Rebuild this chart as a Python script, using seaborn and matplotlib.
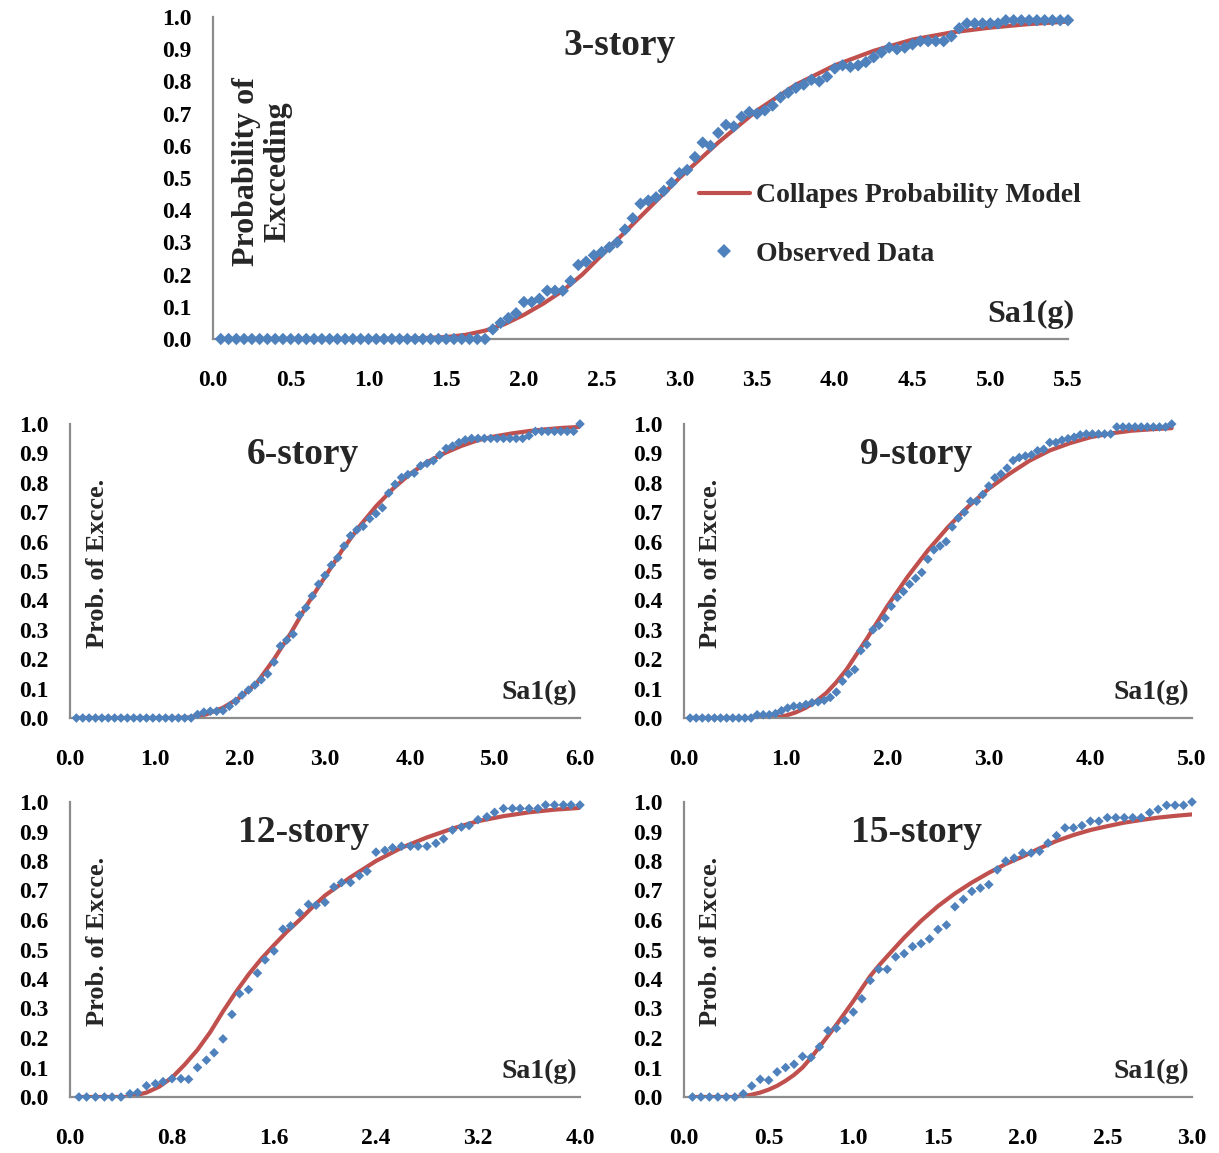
import numpy as np
import matplotlib
matplotlib.use("Agg")
import matplotlib.pyplot as plt
from matplotlib.lines import Line2D
import seaborn as sns

sns.set_style("white")
plt.rcParams['font.family'] = ['Liberation Serif', 'DejaVu Serif']
plt.rcParams['font.weight'] = 'bold'

BLUE = "#4F81BD"
RED = "#C0504D"
GRAY = "#8C8C8C"

# ---------------- 3-story ----------------
obs3_x = [0.05, 0.1, 0.15, 0.2, 0.25, 0.3, 0.35, 0.4, 0.45, 0.5,
          0.55, 0.6, 0.65, 0.7, 0.75, 0.8, 0.85, 0.9, 0.95, 1.0,
          1.05, 1.1, 1.15, 1.2, 1.25, 1.3, 1.35, 1.4, 1.45, 1.5,
          1.55, 1.6, 1.65, 1.7, 1.75, 1.8, 1.85, 1.9, 1.95, 2.0,
          2.05, 2.1, 2.15, 2.2, 2.25, 2.3, 2.35, 2.4, 2.45, 2.5,
          2.55, 2.6, 2.65, 2.7, 2.75, 2.8, 2.85, 2.9, 2.95, 3.0,
          3.05, 3.1, 3.15, 3.2, 3.25, 3.3, 3.35, 3.4, 3.45, 3.5,
          3.55, 3.6, 3.65, 3.7, 3.75, 3.8, 3.85, 3.9, 3.95, 4.0,
          4.05, 4.1, 4.15, 4.2, 4.25, 4.3, 4.35, 4.4, 4.45, 4.5,
          4.55, 4.6, 4.65, 4.7, 4.75, 4.8, 4.85, 4.9, 4.95, 5.0,
          5.05, 5.1, 5.15, 5.2, 5.25, 5.3, 5.35, 5.4, 5.45, 5.5]
obs3_y = [0, 0, 0, 0, 0, 0, 0, 0, 0, 0,
          0, 0, 0, 0, 0, 0, 0, 0, 0, 0,
          0, 0, 0, 0, 0, 0, 0, 0, 0, 0,
          0, 0, 0, 0, 0, 0.03, 0.05, 0.065, 0.08, 0.115,
          0.115, 0.125, 0.15, 0.15, 0.15, 0.18, 0.23, 0.24, 0.26, 0.27,
          0.285, 0.30, 0.34, 0.375, 0.42, 0.43, 0.44, 0.46, 0.485, 0.515,
          0.525, 0.565, 0.61, 0.60, 0.64, 0.665, 0.66, 0.69, 0.705, 0.70,
          0.71, 0.725, 0.75, 0.765, 0.78, 0.79, 0.805, 0.80, 0.815, 0.84,
          0.85, 0.845, 0.85, 0.86, 0.875, 0.89, 0.905, 0.90, 0.905, 0.915,
          0.925, 0.925, 0.925, 0.925, 0.94, 0.965, 0.98, 0.98, 0.98, 0.98,
          0.98, 0.99, 0.99, 0.99, 0.99, 0.99, 0.99, 0.99, 0.99, 0.99]
mod3_x = [0.05, 1.0, 1.25, 1.5, 1.625, 1.75, 1.875, 2.0, 2.125, 2.25, 2.375,
          2.5, 2.625, 2.75, 2.875, 3.0, 3.125, 3.25, 3.375, 3.5, 3.75, 4.0,
          4.25, 4.5, 4.75, 5.0, 5.25, 5.5]
mod3_y = [0, 0, 0.001, 0.006, 0.013, 0.026, 0.046, 0.075, 0.11, 0.15, 0.2,
          0.26, 0.32, 0.38, 0.44, 0.50, 0.555, 0.61, 0.66, 0.71, 0.79, 0.85,
          0.895, 0.93, 0.952, 0.967, 0.978, 0.986]

# ---------------- 6-story ----------------
obs6_x = [0.075, 0.15, 0.225, 0.3, 0.375, 0.45, 0.525, 0.6, 0.675, 0.75,
          0.825, 0.9, 0.975, 1.05, 1.125, 1.2, 1.275, 1.35, 1.425, 1.5,
          1.575, 1.65, 1.725, 1.8, 1.875, 1.95, 2.025, 2.1, 2.175, 2.25,
          2.325, 2.4, 2.475, 2.55, 2.625, 2.7, 2.775, 2.85, 2.925, 3.0,
          3.075, 3.15, 3.225, 3.3, 3.375, 3.45, 3.525, 3.6, 3.675, 3.75,
          3.825, 3.9, 3.975, 4.05, 4.125, 4.2, 4.275, 4.35, 4.425, 4.5,
          4.575, 4.65, 4.725, 4.8, 4.875, 4.95, 5.025, 5.1, 5.175, 5.25,
          5.325, 5.4, 5.475, 5.55, 5.625, 5.7, 5.775, 5.85, 5.925, 6.0]
obs6_y = [0, 0, 0, 0, 0, 0, 0, 0, 0, 0,
          0, 0, 0, 0, 0, 0, 0, 0, 0, 0.012,
          0.02, 0.023, 0.023, 0.025, 0.04, 0.057, 0.078, 0.095, 0.112, 0.13,
          0.15, 0.19, 0.245, 0.265, 0.285, 0.35, 0.375, 0.415, 0.455, 0.485,
          0.52, 0.545, 0.585, 0.62, 0.64, 0.652, 0.678, 0.695, 0.715, 0.765,
          0.795, 0.818, 0.828, 0.833, 0.858, 0.866, 0.875, 0.895, 0.917, 0.925,
          0.937, 0.946, 0.951, 0.951, 0.951, 0.951, 0.951, 0.951, 0.951, 0.951,
          0.951, 0.96, 0.975, 0.975, 0.975, 0.975, 0.975, 0.975, 0.975, 1.0]
mod6_x = [0.075, 1.2, 1.4, 1.6, 1.8, 2.0, 2.2, 2.4, 2.6, 2.8, 3.0, 3.2,
          3.4, 3.6, 3.8, 4.0, 4.2, 4.4, 4.6, 4.8, 5.0, 5.2, 5.4, 5.6, 5.8, 6.0]
mod6_y = [0, 0, 0.002, 0.012, 0.035, 0.07, 0.12, 0.2, 0.29, 0.39, 0.48, 0.57,
          0.65, 0.72, 0.78, 0.83, 0.87, 0.9, 0.925, 0.945, 0.958, 0.968, 0.976,
          0.982, 0.987, 0.99]

# ---------------- 9-story ----------------
obs9_x = [0.06, 0.12, 0.18, 0.24, 0.3, 0.36, 0.42, 0.48, 0.54, 0.6,
          0.66, 0.72, 0.78, 0.84, 0.9, 0.96, 1.02, 1.08, 1.14, 1.2,
          1.26, 1.32, 1.38, 1.44, 1.5, 1.56, 1.62, 1.68, 1.74, 1.8,
          1.86, 1.92, 1.98, 2.04, 2.1, 2.16, 2.22, 2.28, 2.34, 2.4,
          2.46, 2.52, 2.58, 2.64, 2.7, 2.76, 2.82, 2.88, 2.94, 3.0,
          3.06, 3.12, 3.18, 3.24, 3.3, 3.36, 3.42, 3.48, 3.54, 3.6,
          3.66, 3.72, 3.78, 3.84, 3.9, 3.96, 4.02, 4.08, 4.14, 4.2,
          4.26, 4.32, 4.38, 4.44, 4.5, 4.56, 4.62, 4.68, 4.74, 4.8]
obs9_y = [0, 0, 0, 0, 0, 0, 0, 0, 0, 0,
          0, 0.011, 0.011, 0.011, 0.015, 0.025, 0.034, 0.04, 0.04, 0.046,
          0.052, 0.055, 0.06, 0.07, 0.088, 0.125, 0.15, 0.165, 0.229, 0.25,
          0.30, 0.315, 0.34, 0.38, 0.41, 0.43, 0.455, 0.475, 0.495, 0.54,
          0.572, 0.585, 0.60, 0.65, 0.68, 0.70, 0.737, 0.737, 0.76, 0.789,
          0.817, 0.83, 0.85, 0.876, 0.886, 0.891, 0.895, 0.909, 0.914, 0.937,
          0.937, 0.945, 0.95, 0.955, 0.963, 0.966, 0.966, 0.966, 0.966, 0.966,
          0.99, 0.99, 0.99, 0.99, 0.99, 0.99, 0.99, 0.99, 0.99, 1.0]
mod9_x = [0.06, 0.8, 0.9, 1.0, 1.1, 1.2, 1.3, 1.4, 1.5, 1.6, 1.8, 2.0, 2.2,
          2.4, 2.6, 2.8, 3.0, 3.2, 3.4, 3.6, 3.8, 4.0, 4.2, 4.4, 4.6, 4.8]
mod9_y = [0, 0, 0.002, 0.008, 0.019, 0.035, 0.057, 0.085, 0.122, 0.165,
          0.27, 0.38, 0.48, 0.57, 0.65, 0.72, 0.78, 0.83, 0.875, 0.91, 0.935,
          0.955, 0.968, 0.977, 0.982, 0.986]

# ---------------- 12-story ----------------
obs12_x = [0.07, 0.13, 0.2, 0.27, 0.33, 0.4, 0.47, 0.53, 0.6, 0.67,
           0.73, 0.8, 0.87, 0.93, 1.0, 1.07, 1.13, 1.2, 1.27, 1.33,
           1.4, 1.47, 1.53, 1.6, 1.67, 1.73, 1.8, 1.87, 1.93, 2.0,
           2.07, 2.13, 2.2, 2.27, 2.33, 2.4, 2.47, 2.53, 2.6, 2.67,
           2.73, 2.8, 2.87, 2.93, 3.0, 3.07, 3.13, 3.2, 3.27, 3.33,
           3.4, 3.47, 3.53, 3.6, 3.67, 3.73, 3.8, 3.87, 3.93, 4.0]
obs12_y = [0, 0, 0, 0, 0, 0, 0.011, 0.015, 0.038, 0.045,
           0.052, 0.062, 0.062, 0.06, 0.10, 0.125, 0.15, 0.197, 0.28, 0.35,
           0.364, 0.42, 0.465, 0.495, 0.569, 0.58, 0.624, 0.653, 0.65, 0.66,
           0.712, 0.727, 0.727, 0.75, 0.765, 0.83, 0.836, 0.845, 0.85, 0.85,
           0.85, 0.85, 0.86, 0.875, 0.905, 0.915, 0.92, 0.94, 0.95, 0.965,
           0.978, 0.978, 0.978, 0.978, 0.978, 0.99, 0.99, 0.99, 0.99, 0.99]
mod12_x = [0.07, 0.45, 0.5, 0.6, 0.7, 0.8, 0.9, 1.0, 1.1, 1.2, 1.3, 1.4, 1.5,
           1.6, 1.7, 1.8, 1.9, 2.0, 2.2, 2.4, 2.6, 2.8, 3.0, 3.2, 3.4, 3.6,
           3.8, 4.0]
mod12_y = [0, 0, 0.004, 0.015, 0.035, 0.066, 0.11, 0.16, 0.22, 0.29, 0.355,
           0.415, 0.468, 0.515, 0.56, 0.60, 0.643, 0.683, 0.745, 0.80, 0.845,
           0.88, 0.91, 0.935, 0.952, 0.965, 0.974, 0.98]

# ---------------- 15-story ----------------
obs15_x = [0.05, 0.1, 0.15, 0.2, 0.25, 0.3, 0.35, 0.4, 0.45, 0.5,
           0.55, 0.6, 0.65, 0.7, 0.75, 0.8, 0.85, 0.9, 0.95, 1.0,
           1.05, 1.1, 1.15, 1.2, 1.25, 1.3, 1.35, 1.4, 1.45, 1.5,
           1.55, 1.6, 1.65, 1.7, 1.75, 1.8, 1.85, 1.9, 1.95, 2.0,
           2.05, 2.1, 2.15, 2.2, 2.25, 2.3, 2.35, 2.4, 2.45, 2.5,
           2.55, 2.6, 2.65, 2.7, 2.75, 2.8, 2.85, 2.9, 2.95, 3.0]
obs15_y = [0, 0, 0, 0, 0, 0, 0.011, 0.0375, 0.06, 0.057,
           0.085, 0.10, 0.111, 0.1375, 0.134, 0.17, 0.225, 0.233, 0.26, 0.288,
           0.333, 0.395, 0.433, 0.433, 0.475, 0.486, 0.51, 0.52, 0.536, 0.568,
           0.583, 0.645, 0.67, 0.697, 0.708, 0.72, 0.77, 0.80, 0.81, 0.827,
           0.827, 0.833, 0.861, 0.886, 0.9125, 0.9125, 0.92, 0.935, 0.935, 0.947,
           0.947, 0.947, 0.947, 0.947, 0.964, 0.975, 0.989, 0.989, 0.989, 1.0]
mod15_x = [0.05, 0.3, 0.35, 0.4, 0.45, 0.5, 0.55, 0.6, 0.65, 0.7, 0.75, 0.8,
           0.85, 0.9, 0.95, 1.0, 1.05, 1.1, 1.15, 1.2, 1.3, 1.4, 1.5, 1.6, 1.7,
           1.8, 1.9, 2.0, 2.1, 2.2, 2.3, 2.4, 2.5, 2.6, 2.7, 2.8, 2.9, 3.0]
mod15_y = [0, 0, 0.002, 0.008, 0.015, 0.025, 0.038, 0.055, 0.075, 0.10,
           0.133, 0.17, 0.207, 0.245, 0.285, 0.325, 0.368, 0.41, 0.445, 0.477,
           0.54, 0.597, 0.647, 0.69, 0.727, 0.76, 0.79, 0.815, 0.843, 0.868,
           0.888, 0.905, 0.918, 0.93, 0.939, 0.947, 0.953, 0.958]

titles = ["3-story", "6-story", "9-story", "12-story", "15-story"]
y_ticks = [0.0, 0.1, 0.2, 0.3, 0.4, 0.5, 0.6, 0.7, 0.8, 0.9, 1.0]
x_ticks3 = [0.0, 0.5, 1.0, 1.5, 2.0, 2.5, 3.0, 3.5, 4.0, 4.5, 5.0, 5.5]
x_ticks6 = [0.0, 1.0, 2.0, 3.0, 4.0, 5.0, 6.0]
x_ticks9 = [0.0, 1.0, 2.0, 3.0, 4.0, 5.0]
x_ticks12 = [0.0, 0.8, 1.6, 2.4, 3.2, 4.0]
x_ticks15 = [0.0, 0.5, 1.0, 1.5, 2.0, 2.5, 3.0]

W, H = 1219, 1153
fig = plt.figure(figsize=(W / 100, H / 100), dpi=100)


def px_axes(x0, x1, ytop, ybot):
    return fig.add_axes([x0 / W, (H - ybot) / H, (x1 - x0) / W, (ybot - ytop) / H])


panels = [
    dict(ax=px_axes(213, 1068, 17, 339), ox=obs3_x, oy=obs3_y, mx=mod3_x, my=mod3_y,
         xt=x_ticks3, title=titles[0], ms=40, big=True),
    dict(ax=px_axes(70, 580, 424, 718), ox=obs6_x, oy=obs6_y, mx=mod6_x, my=mod6_y,
         xt=x_ticks6, title=titles[1], ms=24, big=False),
    dict(ax=px_axes(684, 1192, 424, 718), ox=obs9_x, oy=obs9_y, mx=mod9_x, my=mod9_y,
         xt=x_ticks9, title=titles[2], ms=24, big=False),
    dict(ax=px_axes(70, 580, 802, 1097), ox=obs12_x, oy=obs12_y, mx=mod12_x, my=mod12_y,
         xt=x_ticks12, title=titles[3], ms=24, big=False),
    dict(ax=px_axes(684, 1192, 802, 1097), ox=obs15_x, oy=obs15_y, mx=mod15_x, my=mod15_y,
         xt=x_ticks15, title=titles[4], ms=24, big=False),
]

for p in panels:
    ax = p["ax"]
    assert len(p["ox"]) == len(p["oy"]) and len(p["mx"]) == len(p["my"])
    sns.lineplot(x=p["mx"], y=p["my"], ax=ax, color=RED, linewidth=3.0,
                 estimator=None, sort=False, zorder=2)
    sns.scatterplot(x=p["ox"], y=p["oy"], ax=ax, marker="D", s=p["ms"],
                    color=BLUE, edgecolor="none", linewidth=0, zorder=3,
                    clip_on=False)
    ax.set_xlim(0, p["xt"][-1])
    ax.set_ylim(0, 1.0)
    ax.set_xticks(p["xt"])
    ax.set_yticks(y_ticks)
    ax.set_xticklabels([f"{v:.1f}" for v in p["xt"]])
    ax.set_yticklabels([f"{v:.1f}" for v in y_ticks])
    for s in ["top", "right"]:
        ax.spines[s].set_visible(False)
    for s in ["left", "bottom"]:
        ax.spines[s].set_color(GRAY)
        ax.spines[s].set_linewidth(1.6)
    ax.tick_params(axis="both", direction="out", length=4.5, width=1.6,
                   color=GRAY, labelsize=17, labelcolor="black")
    ax.tick_params(axis="x", pad=17.5)
    ax.tick_params(axis="y", pad=11)
    for lab in ax.get_xticklabels() + ax.get_yticklabels():
        lab.set_fontweight("bold")
    ax.set_xlabel("")
    ax.set_ylabel("")
    ax.set_facecolor("white")

    if p["big"]:
        ax.text(0.476, 0.913, p["title"], transform=ax.transAxes, ha="center",
                va="center", fontsize=27, fontweight="bold")
        ax.text(0.058, 0.52, "Probability of\nExcceding", transform=ax.transAxes,
                rotation=90, ha="center", va="center", fontsize=23,
                fontweight="bold", linespacing=1.12)
        ax.text(1.008, 0.075, "Sa1(g)", transform=ax.transAxes, ha="right",
                va="center", fontsize=23, fontweight="bold")
        handles = [Line2D([], [], color=RED, linewidth=3.0),
                   Line2D([], [], color=BLUE, marker="D", markersize=7,
                          linestyle="none", markeredgewidth=0)]
        ax.legend(handles, ["Collapes Probability Model", "Observed Data"],
                  loc="upper left", bbox_to_anchor=(0.568, 0.485), frameon=False,
                  handlelength=1.85, handletextpad=0.2,
                  labelspacing=1.2, borderpad=0, borderaxespad=0,
                  prop={"weight": "bold", "size": 20})
    else:
        ax.text(0.457, 0.895, p["title"], transform=ax.transAxes, ha="center",
                va="center", fontsize=27, fontweight="bold")
        ax.text(0.053, 0.527, "Prob. of Excce.", transform=ax.transAxes,
                rotation=90, ha="center", va="center", fontsize=19,
                fontweight="bold")
        ax.text(0.994, 0.088, "Sa1(g)", transform=ax.transAxes, ha="right",
                va="center", fontsize=20, fontweight="bold")

fig.savefig("out.png", dpi=100, facecolor="white")
